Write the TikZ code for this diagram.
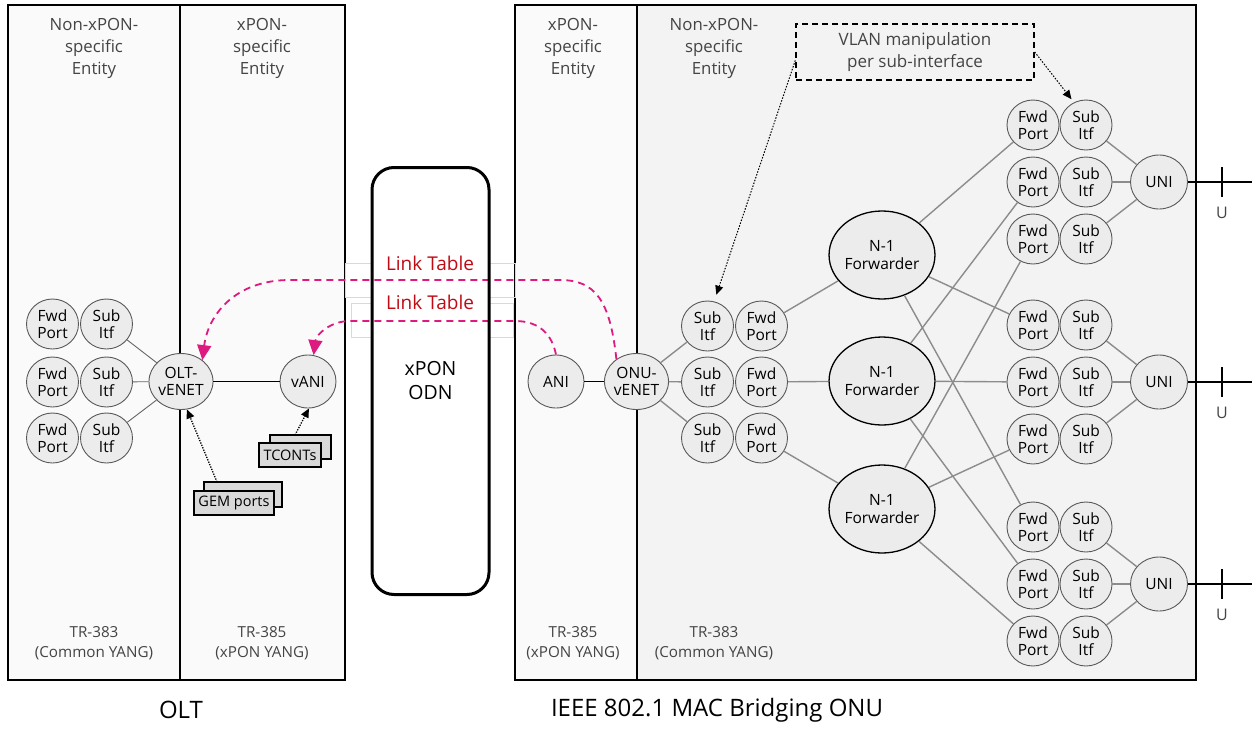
\documentclass[tikz,border=0pt]{standalone}
\usepackage{fontspec}
\setmainfont{Open Sans}
\usetikzlibrary{arrows.meta,shapes.geometric,calc}
\definecolor{circ}{HTML}{ECECEC}
\definecolor{panelA}{HTML}{FAFAFA}
\definecolor{panelB}{HTML}{F3F3F3}
\definecolor{linegray}{HTML}{8C8C8C}
\definecolor{txtgray}{HTML}{444444}
\definecolor{magentaline}{HTML}{DC1A80}
\definecolor{linkred}{HTML}{C00A14}
\definecolor{boxgray}{HTML}{D9D9D9}
\begin{document}
\begin{tikzpicture}[x=1pt,y=-1pt,
  port/.style={ellipse, draw=black!65, line width=0.9pt, fill=circ, minimum width=52pt, minimum height=50pt, inner sep=0pt, align=center, font=\fontsize{15.5}{17.5}\selectfont, text=black},
  bigport/.style={port, minimum width=58pt, minimum height=56pt},
  fwdr/.style={ellipse, draw=black, line width=1.3pt, fill=circ, minimum width=93pt, minimum height=88pt, inner sep=0pt, align=center, font=\fontsize{15.5}{18}\selectfont, text=black},
  conn/.style={draw=linegray, line width=1.4pt},
  oltconn/.style={draw=black!60, line width=0.9pt},
  solidconn/.style={draw=black, line width=1.8pt},
  hdr/.style={align=center, text=txtgray, font=\fontsize{16.8}{22}\selectfont},
  foot/.style={align=center, text=txtgray, font=\fontsize{15.2}{20}\selectfont},
  linkarrow/.style={draw=magentaline, line width=1.8pt, dash pattern=on 7pt off 5pt, -{Triangle[length=15pt,width=14pt]}},
  dotarrow/.style={draw=black, line width=1.3pt, dash pattern=on 1.3pt off 1.3pt, -{Triangle[length=9pt,width=8pt]}},
  stackbox/.style={draw=black, line width=1.4pt, fill=boxgray, font=\fontsize{14.5}{16}\selectfont, inner sep=0pt},
]
\useasboundingbox (0,0) rectangle (1252,728);
\fill[white] (0,0) rectangle (1252,728);

% ---------- panels ----------
\draw[line width=1.3pt, fill=panelA] (8,5) rectangle (345,680);
\draw[line width=1.3pt] (180,5) -- (180,680);
\draw[line width=1.3pt, fill=panelA] (515,5) rectangle (1196,680);
\fill[panelB] (637,5) rectangle (1196,680);
\draw[line width=1.3pt] (515,5) rectangle (1196,680);
\draw[line width=1.3pt] (637,5) -- (637,680);

% headers
\node[hdr] (h1) at (94,48) {Non-xPON-\\specific\\Entity};
\node[hdr] (h2) at (262,48) {xPON-\\specific\\Entity};
\node[hdr] (h3) at (573,48) {xPON-\\specific\\Entity};
\node[hdr] (h4) at (714,48) {Non-xPON-\\specific\\Entity};
% footers
\node[foot] (f1) at (94,643) {TR-383\\(Common YANG)};
\node[foot] (f2) at (262,643) {TR-385\\(xPON YANG)};
\node[foot] (f3) at (573,643) {TR-385\\(xPON YANG)};
\node[foot] (f4) at (714,643) {TR-383\\(Common YANG)};
\node[font=\fontsize{24}{28}\selectfont] (olt) at (181,710) {OLT};
\node[font=\fontsize{24}{28}\selectfont] (onu) at (717,710) {IEEE 802.1 MAC Bridging ONU};

% faint boxes behind link tables
\draw[boxgray, line width=0.8pt] (345,263) rectangle (515,297);
\draw[boxgray, line width=0.8pt] (351,303) rectangle (513,337);
\fill[white] (372,168) rectangle (489,592);

% ---------- OLT nodes ----------
\foreach \i/\y in {1/324,2/382,3/438}{
  \node[port] (fwdL\i) at (52.5,\y) {Fwd\\Port};
  \node[port] (subL\i) at (106.5,\y) {Sub\\Itf};
}
\node[bigport] (oltvenet) at (181,381.5) {OLT-\\vENET};
\node[port, minimum width=56pt, minimum height=53pt] (vani) at (308,381.5) {vANI};
\foreach \i in {1,2,3}{ \draw[oltconn] (subL\i) -- (oltvenet); }
\draw[solidconn] (oltvenet) -- (vani);

% TCONTs and GEM ports
\draw[stackbox] (270,435) rectangle (331,459);
\node[stackbox, minimum width=62pt, minimum height=24pt] (tconts) at (290,455) {TCONTs};
\draw[stackbox] (204,482) rectangle (282,507);
\node[stackbox, minimum width=80pt, minimum height=24pt] (gem) at (234,503) {GEM ports};
\coordinate (gemtop) at (217,482);
\coordinate (tctop) at (295,435);
\draw[dotarrow] (gemtop) -- (oltvenet.282);
\draw[dotarrow] (tctop) -- (vani.272);

% ---------- ONU nodes ----------
\node[port, minimum width=56pt, minimum height=53pt] (ani) at (556,381.5) {ANI};
\node[bigport] (onuvenet) at (636.5,381.5) {ONU-\\vENET};
\draw[solidconn] (ani) -- (onuvenet);
\foreach \i/\y in {1/326,2/382,3/438}{
  \node[port] (subO\i) at (707.5,\y) {Sub\\Itf};
  \node[port] (fwdO\i) at (761.5,\y) {Fwd\\Port};
  \draw[conn] (onuvenet) -- (subO\i);
}
\node[fwdr] (F1) at (882,255) {N-1\\Forwarder};
\node[fwdr] (F2) at (882,381) {N-1\\Forwarder};
\node[fwdr] (F3) at (882,509) {N-1\\Forwarder};
\draw[conn] (fwdO1) -- (F1);
\draw[conn] (fwdO2) -- (F2);
\draw[conn] (fwdO3) -- (F3);

\foreach \i/\y in {1/125,2/182,3/239,4/325,5/382,6/439,7/527,8/584,9/641}{
  \node[port] (fwdR\i) at (1033,\y) {Fwd\\Port};
  \node[port] (subR\i) at (1086,\y) {Sub\\Itf};
}
\foreach \f/\a/\b/\c in {F1/1/4/7, F2/2/5/8, F3/3/6/9}{
  \draw[conn] (\f) -- (fwdR\a);
  \draw[conn] (\f) -- (fwdR\b);
  \draw[conn] (\f) -- (fwdR\c);
}
\foreach \u/\y/\a/\b/\c in {1/182/1/2/3, 2/382/4/5/6, 3/584/7/8/9}{
  \node[port, minimum width=57pt, minimum height=54pt] (uni\u) at (1159,\y) {UNI};
  \draw[conn] (subR\a) -- (uni\u);
  \draw[conn] (subR\b) -- (uni\u);
  \draw[conn] (subR\c) -- (uni\u);
  \coordinate (uend\u) at (1252,\y);
  \draw[black, line width=1.8pt] (uni\u) -- (uend\u);
  \draw[black, line width=2.6pt] (1222,\y-15) -- (1222,\y+15);
  \node[text=txtgray, font=\fontsize{16}{18}\selectfont] (ulab\u) at (1222,\y+31) {U};
}

% VLAN box
\node[draw=black, line width=1.4pt, dash pattern=on 6pt off 4pt, fill=panelB, minimum width=238pt, minimum height=56pt, align=center, text=txtgray, font=\fontsize{17}{22}\selectfont] (vlan) at (915,52) {VLAN manipulation\\per sub-interface};
\draw[dotarrow, line width=1pt, dash pattern=on 1.5pt off 1.5pt, shorten >=7pt] (vlan.184) -- (subO1.75);
\draw[dotarrow, line width=1pt, dash pattern=on 1.5pt off 1.5pt, shorten >=4pt] (vlan.east) -- (subR1.118);

% ---------- link table arrows ----------
\draw[linkarrow] (onuvenet.132) .. controls (610,300) and (595,280) .. (560,280) -- (290,280) .. controls (235,280) and (208,315) .. (oltvenet.45);
\draw[linkarrow] (ani.north) .. controls (552,335) and (540,321) .. (515,321) -- (350,321) .. controls (330,321) and (316,335) .. (vani.78);

% ODN
\node[draw=black, line width=3pt, rounded corners=22pt, minimum width=117pt, minimum height=427pt, align=center, font=\fontsize{19.5}{24}\selectfont] (odn) at (430.5,381) {xPON\\ODN};

\node[text=linkred, font=\fontsize{19}{22}\selectfont] (lt1) at (430,263) {Link Table};
\node[text=linkred, font=\fontsize{19}{22}\selectfont] (lt2) at (430,302) {Link Table};
\end{tikzpicture}
\end{document}
